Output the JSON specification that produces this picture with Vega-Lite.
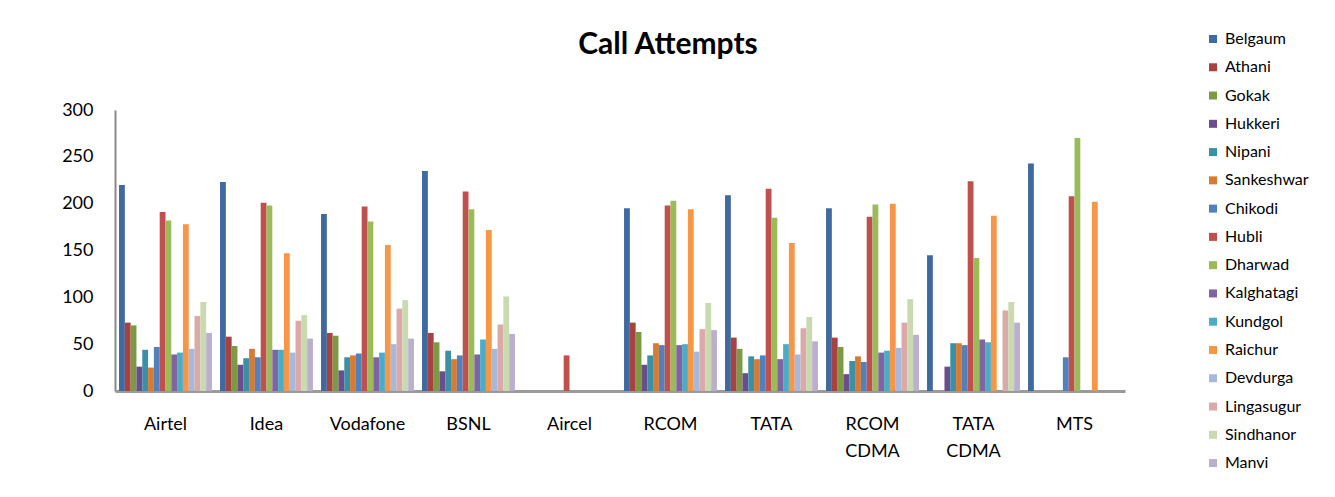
{
"$schema":"https://vega.github.io/schema/vega-lite/v6.json",
"autosize":{"type":"none"},
"width":1010,"height":281,
"padding":{"left":115,"top":110,"right":210,"bottom":106},
"background":"white",
"title":{"text":"Call Attempts","font":"Lato","fontSize":30,"fontWeight":"bold","color":"#000000","anchor":"middle","dx":48,"offset":-29},
"data":{"values":[
{"op":"Airtel","loc":"Belgaum","v":220},{"op":"Airtel","loc":"Athani","v":73},{"op":"Airtel","loc":"Gokak","v":70},{"op":"Airtel","loc":"Hukkeri","v":26},{"op":"Airtel","loc":"Nipani","v":44},{"op":"Airtel","loc":"Sankeshwar","v":25},{"op":"Airtel","loc":"Chikodi","v":47},{"op":"Airtel","loc":"Hubli","v":191},{"op":"Airtel","loc":"Dharwad","v":182},{"op":"Airtel","loc":"Kalghatagi","v":39},{"op":"Airtel","loc":"Kundgol","v":41},{"op":"Airtel","loc":"Raichur","v":178},{"op":"Airtel","loc":"Devdurga","v":45},{"op":"Airtel","loc":"Lingasugur","v":80},{"op":"Airtel","loc":"Sindhanor","v":95},{"op":"Airtel","loc":"Manvi","v":62},
{"op":"Idea","loc":"Belgaum","v":223},{"op":"Idea","loc":"Athani","v":58},{"op":"Idea","loc":"Gokak","v":48},{"op":"Idea","loc":"Hukkeri","v":28},{"op":"Idea","loc":"Nipani","v":35},{"op":"Idea","loc":"Sankeshwar","v":45},{"op":"Idea","loc":"Chikodi","v":36},{"op":"Idea","loc":"Hubli","v":201},{"op":"Idea","loc":"Dharwad","v":198},{"op":"Idea","loc":"Kalghatagi","v":44},{"op":"Idea","loc":"Kundgol","v":44},{"op":"Idea","loc":"Raichur","v":147},{"op":"Idea","loc":"Devdurga","v":41},{"op":"Idea","loc":"Lingasugur","v":75},{"op":"Idea","loc":"Sindhanor","v":81},{"op":"Idea","loc":"Manvi","v":56},
{"op":"Vodafone","loc":"Belgaum","v":189},{"op":"Vodafone","loc":"Athani","v":62},{"op":"Vodafone","loc":"Gokak","v":59},{"op":"Vodafone","loc":"Hukkeri","v":22},{"op":"Vodafone","loc":"Nipani","v":36},{"op":"Vodafone","loc":"Sankeshwar","v":38},{"op":"Vodafone","loc":"Chikodi","v":40},{"op":"Vodafone","loc":"Hubli","v":197},{"op":"Vodafone","loc":"Dharwad","v":181},{"op":"Vodafone","loc":"Kalghatagi","v":36},{"op":"Vodafone","loc":"Kundgol","v":41},{"op":"Vodafone","loc":"Raichur","v":156},{"op":"Vodafone","loc":"Devdurga","v":50},{"op":"Vodafone","loc":"Lingasugur","v":88},{"op":"Vodafone","loc":"Sindhanor","v":97},{"op":"Vodafone","loc":"Manvi","v":56},
{"op":"BSNL","loc":"Belgaum","v":235},{"op":"BSNL","loc":"Athani","v":62},{"op":"BSNL","loc":"Gokak","v":52},{"op":"BSNL","loc":"Hukkeri","v":21},{"op":"BSNL","loc":"Nipani","v":43},{"op":"BSNL","loc":"Sankeshwar","v":34},{"op":"BSNL","loc":"Chikodi","v":38},{"op":"BSNL","loc":"Hubli","v":213},{"op":"BSNL","loc":"Dharwad","v":194},{"op":"BSNL","loc":"Kalghatagi","v":39},{"op":"BSNL","loc":"Kundgol","v":55},{"op":"BSNL","loc":"Raichur","v":172},{"op":"BSNL","loc":"Devdurga","v":45},{"op":"BSNL","loc":"Lingasugur","v":71},{"op":"BSNL","loc":"Sindhanor","v":101},{"op":"BSNL","loc":"Manvi","v":61},
{"op":"Aircel","loc":"Belgaum","v":0},{"op":"Aircel","loc":"Athani","v":0},{"op":"Aircel","loc":"Gokak","v":0},{"op":"Aircel","loc":"Hukkeri","v":0},{"op":"Aircel","loc":"Nipani","v":0},{"op":"Aircel","loc":"Sankeshwar","v":0},{"op":"Aircel","loc":"Chikodi","v":0},{"op":"Aircel","loc":"Hubli","v":38},{"op":"Aircel","loc":"Dharwad","v":0},{"op":"Aircel","loc":"Kalghatagi","v":0},{"op":"Aircel","loc":"Kundgol","v":0},{"op":"Aircel","loc":"Raichur","v":0},{"op":"Aircel","loc":"Devdurga","v":0},{"op":"Aircel","loc":"Lingasugur","v":0},{"op":"Aircel","loc":"Sindhanor","v":0},{"op":"Aircel","loc":"Manvi","v":0},
{"op":"RCOM","loc":"Belgaum","v":195},{"op":"RCOM","loc":"Athani","v":73},{"op":"RCOM","loc":"Gokak","v":63},{"op":"RCOM","loc":"Hukkeri","v":28},{"op":"RCOM","loc":"Nipani","v":38},{"op":"RCOM","loc":"Sankeshwar","v":51},{"op":"RCOM","loc":"Chikodi","v":49},{"op":"RCOM","loc":"Hubli","v":198},{"op":"RCOM","loc":"Dharwad","v":203},{"op":"RCOM","loc":"Kalghatagi","v":49},{"op":"RCOM","loc":"Kundgol","v":50},{"op":"RCOM","loc":"Raichur","v":194},{"op":"RCOM","loc":"Devdurga","v":42},{"op":"RCOM","loc":"Lingasugur","v":66},{"op":"RCOM","loc":"Sindhanor","v":94},{"op":"RCOM","loc":"Manvi","v":65},
{"op":"TATA","loc":"Belgaum","v":209},{"op":"TATA","loc":"Athani","v":57},{"op":"TATA","loc":"Gokak","v":45},{"op":"TATA","loc":"Hukkeri","v":19},{"op":"TATA","loc":"Nipani","v":37},{"op":"TATA","loc":"Sankeshwar","v":34},{"op":"TATA","loc":"Chikodi","v":38},{"op":"TATA","loc":"Hubli","v":216},{"op":"TATA","loc":"Dharwad","v":185},{"op":"TATA","loc":"Kalghatagi","v":34},{"op":"TATA","loc":"Kundgol","v":50},{"op":"TATA","loc":"Raichur","v":158},{"op":"TATA","loc":"Devdurga","v":39},{"op":"TATA","loc":"Lingasugur","v":67},{"op":"TATA","loc":"Sindhanor","v":79},{"op":"TATA","loc":"Manvi","v":53},
{"op":"RCOM CDMA","loc":"Belgaum","v":195},{"op":"RCOM CDMA","loc":"Athani","v":57},{"op":"RCOM CDMA","loc":"Gokak","v":47},{"op":"RCOM CDMA","loc":"Hukkeri","v":18},{"op":"RCOM CDMA","loc":"Nipani","v":32},{"op":"RCOM CDMA","loc":"Sankeshwar","v":37},{"op":"RCOM CDMA","loc":"Chikodi","v":31},{"op":"RCOM CDMA","loc":"Hubli","v":186},{"op":"RCOM CDMA","loc":"Dharwad","v":199},{"op":"RCOM CDMA","loc":"Kalghatagi","v":41},{"op":"RCOM CDMA","loc":"Kundgol","v":43},{"op":"RCOM CDMA","loc":"Raichur","v":200},{"op":"RCOM CDMA","loc":"Devdurga","v":46},{"op":"RCOM CDMA","loc":"Lingasugur","v":73},{"op":"RCOM CDMA","loc":"Sindhanor","v":98},{"op":"RCOM CDMA","loc":"Manvi","v":60},
{"op":"TATA CDMA","loc":"Belgaum","v":145},{"op":"TATA CDMA","loc":"Athani","v":0},{"op":"TATA CDMA","loc":"Gokak","v":0},{"op":"TATA CDMA","loc":"Hukkeri","v":26},{"op":"TATA CDMA","loc":"Nipani","v":51},{"op":"TATA CDMA","loc":"Sankeshwar","v":51},{"op":"TATA CDMA","loc":"Chikodi","v":49},{"op":"TATA CDMA","loc":"Hubli","v":224},{"op":"TATA CDMA","loc":"Dharwad","v":142},{"op":"TATA CDMA","loc":"Kalghatagi","v":55},{"op":"TATA CDMA","loc":"Kundgol","v":52},{"op":"TATA CDMA","loc":"Raichur","v":187},{"op":"TATA CDMA","loc":"Devdurga","v":0},{"op":"TATA CDMA","loc":"Lingasugur","v":86},{"op":"TATA CDMA","loc":"Sindhanor","v":95},{"op":"TATA CDMA","loc":"Manvi","v":73},
{"op":"MTS","loc":"Belgaum","v":243},{"op":"MTS","loc":"Athani","v":0},{"op":"MTS","loc":"Gokak","v":0},{"op":"MTS","loc":"Hukkeri","v":0},{"op":"MTS","loc":"Nipani","v":0},{"op":"MTS","loc":"Sankeshwar","v":0},{"op":"MTS","loc":"Chikodi","v":36},{"op":"MTS","loc":"Hubli","v":208},{"op":"MTS","loc":"Dharwad","v":270},{"op":"MTS","loc":"Kalghatagi","v":0},{"op":"MTS","loc":"Kundgol","v":0},{"op":"MTS","loc":"Raichur","v":202},{"op":"MTS","loc":"Devdurga","v":0},{"op":"MTS","loc":"Lingasugur","v":0},{"op":"MTS","loc":"Sindhanor","v":0},{"op":"MTS","loc":"Manvi","v":0}
]},
"mark":{"type":"bar"},
"encoding":{
"x":{"field":"op","type":"nominal","sort":null,"title":null,
 "scale":{"paddingInner":0.08,"paddingOuter":0.04},
 "axis":{"labelAngle":0,"labelFont":"Lato","labelFontSize":18,"labelColor":"#000000","labelPadding":24,"labelLineHeight":27,"labelBaseline":"top","ticks":false,"domainColor":"#9a9a9a","domainWidth":3,"labelExpr":"split(datum.value, ' ')"}},
"xOffset":{"field":"loc","type":"nominal","sort":null},
"y":{"field":"v","type":"quantitative","title":null,
 "scale":{"domain":[0,300],"nice":false},
 "axis":{"values":[0,50,100,150,200,250,300],"grid":false,"ticks":false,"labelFont":"Lato","labelFontSize":18,"labelColor":"#000000","labelPadding":22,"domainColor":"#8a8a8a","domainWidth":2}},
"color":{"field":"loc","type":"nominal",
 "scale":{"domain":["Belgaum","Athani","Gokak","Hukkeri","Nipani","Sankeshwar","Chikodi","Hubli","Dharwad","Kalghatagi","Kundgol","Raichur","Devdurga","Lingasugur","Sindhanor","Manvi"],
  "range":["#3E6AA0","#A84240","#7C9A44","#6A4D8A","#3A90A6","#D87A32","#4F81BD","#C0504D","#9BBB59","#8064A2","#4BACC6","#F79646","#A7B9DB","#DBA9A8","#C9DAB0","#BAB0CE"]},
 "legend":{"title":null,"orient":"none","legendX":1090,"legendY":-79,"padding":0,"symbolType":"square","symbolSize":64,"symbolStrokeWidth":0,"labelFont":"Lato","labelFontSize":16,"labelColor":"#000000","labelOffset":4,"rowPadding":12.27,"labelLimit":200}}
},
"config":{"view":{"stroke":null}}
}
